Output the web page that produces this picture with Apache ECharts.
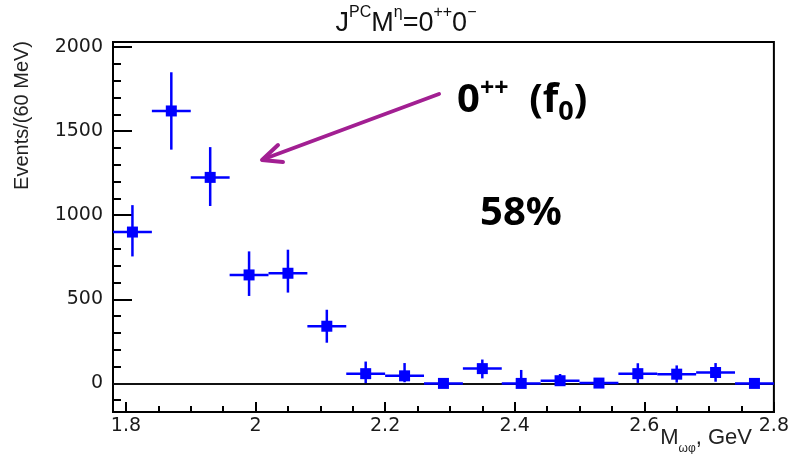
<!DOCTYPE html>
<html>
<head>
<meta charset="utf-8">
<script src="https://cdn.jsdelivr.net/npm/echarts@6/dist/echarts.min.js"></script>
<style>html,body{margin:0;padding:0;background:#fff}#c{width:792px;height:454px}</style>
</head>
<body>
<div id="c"></div>
<script>
// ---- data ----
var binCenters = [1.81, 1.87, 1.93, 1.99, 2.05, 2.11, 2.17, 2.23, 2.29, 2.35, 2.41, 2.47, 2.53, 2.59, 2.65, 2.71, 2.77];
var events     = [900, 1620, 1225, 645, 655, 340, 58, 45, 0, 88, 0, 16, 2, 58, 55, 65, 0];
var errHigh    = [160, 230, 180, 140, 140, 98, 72, 76, 0, 54, 80, 40, 0, 62, 52, 56, 0];
var errLow     = [145, 230, 170, 125, 115, 98, 56, 38, 0, 58, 0, 16, 0, 55, 50, 55, 0];
var binHalfWidth = 0.03;
var xMajorTicks = [1.8, 2.0, 2.2, 2.4, 2.6, 2.8];
var xTickLabels = ['1.8', '2', '2.2', '2.4', '2.6', '2.8'];
var xMinorTicks = [1.85, 1.9, 1.95, 2.05, 2.1, 2.15, 2.25, 2.3, 2.35, 2.45, 2.5, 2.55, 2.65, 2.7, 2.75];
var yMajorTicks = [0, 500, 1000, 1500, 2000];
var yTickLabels = ['0', '500', '1000', '1500', '2000'];
var yMinorTicks = [-100, 100, 200, 300, 400, 600, 700, 800, 900, 1100, 1200, 1300, 1400, 1600, 1700, 1800, 1900];

var seriesData = binCenters.map(function (x, i) { return [x, events[i], errLow[i], errHigh[i]]; });

var BLUE = '#0000ff';
var chart = echarts.init(document.getElementById('c'));

function labelFrom(values, labels) {
  return function (v) {
    for (var i = 0; i < values.length; i++) if (Math.abs(values[i] - v) < 1e-6) return labels[i];
    return '';
  };
}

var axisCommon = {
  type: 'value',
  axisLine: { show: true, onZero: false, lineStyle: { color: '#000', width: 2 } },
  splitLine: { show: false }
};

chart.setOption({
  animation: false,
  grid: { left: 113, right: 17, top: 42, bottom: 42, show: true, borderColor: '#000', borderWidth: 2, backgroundColor: 'transparent' },
  xAxis: [
    Object.assign({}, axisCommon, {
      min: 1.78, max: 2.8, position: 'bottom',
      axisTick: { show: true, inside: true, length: 10, customValues: xMajorTicks, lineStyle: { color: '#000', width: 2 } },
      axisLabel: { show: true, customValues: xMajorTicks, formatter: labelFrom(xMajorTicks, xTickLabels), margin: 5,
        fontFamily: 'DejaVu Sans', fontSize: 19, color: '#1a1a1a' }
    }),
    Object.assign({}, axisCommon, {
      min: 1.78, max: 2.8, position: 'bottom',
      axisTick: { show: true, inside: true, length: 6, customValues: xMinorTicks, lineStyle: { color: '#000', width: 2 } },
      axisLabel: { show: false }
    })
  ],
  yAxis: [
    Object.assign({}, axisCommon, {
      min: -170, max: 2030, position: 'left',
      axisTick: { show: true, inside: true, length: 19, customValues: yMajorTicks, lineStyle: { color: '#000', width: 2 } },
      axisLabel: { show: true, customValues: yMajorTicks, formatter: labelFrom(yMajorTicks, yTickLabels), margin: 10,
        fontFamily: 'DejaVu Sans', fontSize: 19, color: '#1a1a1a' }
    }),
    Object.assign({}, axisCommon, {
      min: -170, max: 2030, position: 'left',
      axisTick: { show: true, inside: true, length: 8, customValues: yMinorTicks, lineStyle: { color: '#000', width: 2 } },
      axisLabel: { show: false }
    })
  ],
  series: [
    {
      type: 'line', data: [], z: 1, silent: true,
      markLine: { silent: true, symbol: 'none', label: { show: false },
        lineStyle: { color: '#111', width: 2, type: 'solid' }, data: [{ yAxis: 0 }] }
    },
    {
      type: 'custom', z: 5, data: seriesData,
      encode: { x: 0, y: 1 },
      renderItem: function (params, api) {
        var x = api.value(0), y = api.value(1), lo = api.value(2), hi = api.value(3);
        var pL = api.coord([x - binHalfWidth, y]);
        var pR = api.coord([x + binHalfWidth, y]);
        var pT = api.coord([x, y + hi]);
        var pB = api.coord([x, y - lo]);
        var c = api.coord([x, y]);
        var st = { stroke: BLUE, lineWidth: 2.5 };
        var kids = [
          { type: 'line', shape: { x1: pL[0], y1: pL[1], x2: pR[0], y2: pR[1] }, style: st },
          { type: 'rect', shape: { x: c[0] - 5.5, y: c[1] - 5.5, width: 11, height: 11 }, style: { fill: BLUE } }
        ];
        if (hi > 0 || lo > 0) {
          kids.push({ type: 'line', shape: { x1: pB[0], y1: pB[1], x2: pT[0], y2: pT[1] }, style: st });
        }
        return { type: 'group', children: kids };
      }
    }
  ],
  graphic: [
    { type: 'text', x: 406, y: 21, style: {
        text: '{b|J}{s|PC}{b|M}{s|η}{b|=0}{s|++}{b|0}{s|−}',
        align: 'center', verticalAlign: 'middle',
        rich: {
          b: { fontFamily: 'Liberation Sans', fontSize: 27, fill: '#111', verticalAlign: 'bottom', lineHeight: 32 },
          s: { fontFamily: 'Liberation Sans', fontSize: 16, fill: '#111', verticalAlign: 'top', lineHeight: 32 }
        } } },
    { type: 'text', x: 22, y: 41, rotation: Math.PI / 2, style: {
        text: 'Events/(60 MeV)', align: 'right', verticalAlign: 'middle',
        fontFamily: 'Liberation Sans', fontSize: 20, fill: '#222' } },
    { type: 'text', x: 752, y: 441, style: {
        text: '{b|M}{s|ωφ}{b|, GeV}', align: 'right', verticalAlign: 'middle',
        rich: {
          b: { fontFamily: 'Liberation Sans', fontSize: 22, fill: '#222', verticalAlign: 'top', lineHeight: 28 },
          s: { fontFamily: 'Liberation Sans', fontSize: 12, fill: '#222', verticalAlign: 'bottom', lineHeight: 28 }
        } } },
    { type: 'text', x: 457, y: 101, style: {
        text: '{b|0}{s|++}{b|  (f}{u|0}{b|)}', align: 'left', verticalAlign: 'middle',
        rich: {
          b: { fontFamily: 'Noto Sans', fontWeight: 'bold', fontSize: 40, fill: '#000', verticalAlign: 'middle', lineHeight: 50 },
          s: { fontFamily: 'Noto Sans', fontWeight: 'bold', fontSize: 25, fill: '#000', verticalAlign: 'top', lineHeight: 50 },
          u: { fontFamily: 'Noto Sans', fontWeight: 'bold', fontSize: 27, fill: '#000', verticalAlign: 'bottom', lineHeight: 46 }
        } } },
    { type: 'text', x: 521, y: 214, style: {
        text: '58%', align: 'center', verticalAlign: 'middle',
        fontFamily: 'Noto Sans', fontWeight: 'bold', fontSize: 40, fill: '#000' } },
    { type: 'line', shape: { x1: 439, y1: 94, x2: 264, y2: 159 },
      style: { stroke: '#a21f92', lineWidth: 4, lineCap: 'round' } },
    { type: 'polyline', shape: { points: [[278, 145], [262, 160], [283, 162]] },
      style: { stroke: '#a21f92', lineWidth: 4, lineCap: 'round', lineJoin: 'round', fill: null } }
  ]
});
</script>
</body>
</html>
